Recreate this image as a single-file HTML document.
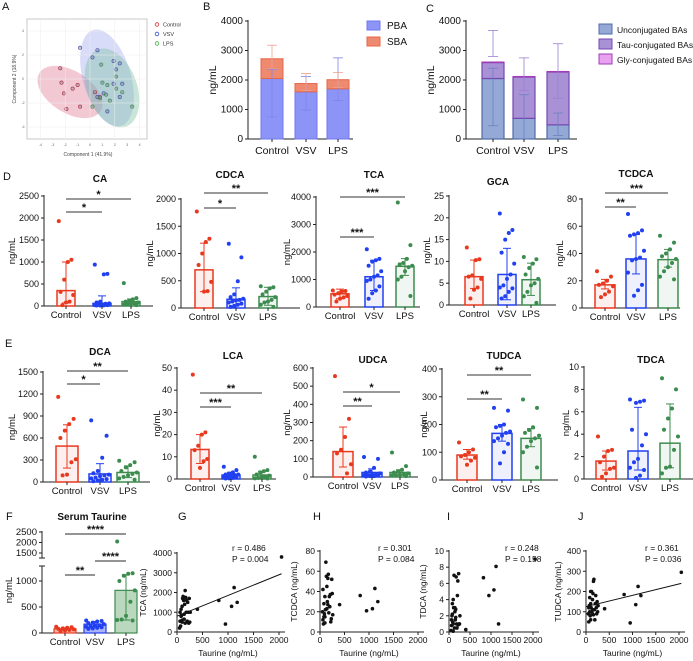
<!DOCTYPE html>
<html><head><meta charset="utf-8">
<style>
html,body{margin:0;padding:0;background:#fff;}
svg{display:block;font-family:"Liberation Sans",Arial,sans-serif;}
</style></head>
<body>
<svg id="fig" width="693" height="661" viewBox="0 0 693 661" xmlns="http://www.w3.org/2000/svg"></svg>
<script>
// ---------- data ----------
const groups = ['Control','VSV','LPS'];
// Panel A PCA scores
const pcaCtrlX = [-2.4,-2.3,-2.1,-1.9,-1.4,-1.0,-0.8,0.4,0.8];
const pcaCtrlY = [0.9,-0.3,-1.2,-2.5,-0.8,-0.5,-2.3,-1.1,-1.5];
const pcaVsvX = [-0.8,0.6,0.2,1.9,2.4,2.1,1.9,2.6,2.4,0.6,1.4,1.1];
const pcaVsvY = [2.6,2.4,1.8,1.5,1.3,0.8,-0.4,-0.4,-1.5,-1.5,-2.7,-1.2];
const pcaLpsX = [0.9,2.1,1.0,1.4,2.1,2.6,1.3,1.6,0.2,3.4,0.8];
const pcaLpsY = [1.2,0.2,-0.3,-0.5,-0.8,-1.1,-1.3,-1.8,-2.3,-2.3,-1.6];
// Panel B
const bPBA = [2050,1600,1700];
const bSBA = [670,280,310];
const bPBALo = [750,980,1300];
const bPBAHi = [2350,2120,2750];
const bTotLo = [2380,1650,1750];
const bTotHi = [3180,2220,2250];
// Panel C
const cUnconj = [2050,700,480];
const cTau = [540,1400,1790];
const cGly = [20,20,20];
const cUncLo = [450,0,120];
const cUncHi = [2400,1500,880];
const cTotLo = [2800,1650,1380];
const cTotHi = [3680,2750,3230];
// Row D
const caMeans=[350,60,100], caLo=[70,0,40], caHi=[1000,230,160];
const caPts=[[1930,1050,1000,600,320,250,100,80,20],[940,730,720,100,80,60,50,40,30,20,20,15,10,10],[520,180,150,120,100,80,60,50,40,30,20]];
const cdcaMeans=[700,160,210], cdcaLo=[300,0,50], cdcaHi=[1190,370,380];
const cdcaPts=[[1770,1270,1210,1000,790,480,310,300],[1180,930,490,250,200,170,150,140,120,100,80,60,40,20],[400,380,360,300,250,200,150,120,100,60,20]];
const tcaMeans=[480,1100,1480], tcaLo=[300,600,1150], tcaHi=[650,1700,1760];
const tcaPts=[[600,580,560,500,450,400,350,300,200],[2100,1750,1700,1650,1500,1300,1150,1100,1000,950,750,600,500,300],[3800,2250,1750,1600,1550,1500,1450,1300,1100,1000,400]];
const gcaMeans=[6.5,7,5.8], gcaLo=[3.8,1.2,2.2], gcaHi=[10.3,13,9.6];
const gcaPts=[[13.2,10.5,10.3,6.8,6.5,6.0,4.0,3.5,1.5],[21,17.2,16.5,15,12,9.5,7,6,4.5,4,3.8,3,2,1.5],[11,10.5,9.5,8.5,7,6,5,4.5,3,2,0.5]];
const tcdcaMeans=[17,36,35.5], tcdcaLo=[14,25,30], tcdcaHi=[21,54,43];
const tcdcaPts=[[27,23,20,18,17,16,12,10,8],[69,57,55,54,53,42,37,36,35,26,17,13,9],[53,48,43,40,38,36,33,30,27,23,21]];
// Row E
const dcaMeans=[490,110,130], dcaLo=[190,0,60], dcaHi=[780,250,220];
const dcaPts=[[1160,860,790,700,600,310,270,100,90],[840,630,330,150,120,100,90,80,60,50,40,30,20,10],[290,270,230,200,150,130,110,90,70,50,30]];
const lcaMeans=[13.3,1.8,1.8], lcaLo=[7,1,0.5], lcaHi=[20,3,3.5];
const lcaPts=[[47,21,20,15,13,9,8,5],[5.5,4,3,2.5,2,2,1.8,1.5,1.2,1,0.8,0.5,0.3,0.2],[10,4,3.5,3,2,1.5,1,1,0.5,0.3,0.2]];
const udcaMeans=[140,25,25], udcaLo=[55,5,10], udcaHi=[275,45,40];
const udcaPts=[[555,320,220,150,130,70,20],[110,100,50,30,25,20,15,15,10,10,8,5,5,3],[135,60,40,30,25,20,15,12,10,8,5]];
const tudcaMeans=[90,168,150], tudcaLo=[75,140,120], tudcaHi=[110,200,185];
const tudcaPts=[[135,110,100,90,85,80,70,55],[260,250,200,195,190,175,170,160,150,140,130,100,60],[290,260,190,180,170,160,150,140,120,100,45]];
const tdcaMeans=[1.6,2.5,3.2], tdcaLo=[0.8,0.8,1], tdcaHi=[2.5,6.4,6.7];
const tdcaPts=[[3.8,2.6,2.5,2,1.5,1,0.9,0.5,0.2],[7.1,7,6.9,6.8,4.4,4,3,1.8,1.5,1,0.8,0.3,0.1],[9,8,6.3,5.4,4.4,3.8,2.6,1.1,1,0.5]];
// Panel F
const tauMeans=[80,170,820], tauLo=[60,130,250], tauHi=[100,220,1120];
const tauPts=[[120,110,100,90,80,70,60,50,40],[240,230,220,200,190,170,150,140,130,120,110,100,90,80],[2050,1150,1140,1100,1000,820,600,330,260,250,240]];
// Scatter G-J (x = taurine)
const taurineX=[50,60,70,80,90,100,100,110,120,130,140,150,160,170,180,190,200,210,220,230,240,250,260,80,140,400,820,950,1070,1120,1180,2050,60,100,160];
const tcaY=[200,550,300,1150,850,600,500,1700,1800,1600,650,1400,2100,1750,1000,1600,550,1500,1000,450,1700,500,1000,800,900,1150,1600,400,1300,2250,1500,3800,1000,1300,450];
const tcdcaY=[20,12,8,28,18,35,15,22,69,55,45,30,53,57,19,35,25,37,10,13,52,38,17,15,23,27,36,21,23,43,30,null,42,9,27];
const tdcaY=[0.2,0.8,2,3.5,1.2,4,1,3,7,0.5,2.5,1.5,2.8,6.8,1,0.5,4.5,6.3,0.9,7.2,1,1,2,2.2,3,0.3,6.7,4.5,5.2,8.1,1,9,1.5,0.1,1.8];
const tudcaY=[90,50,130,100,80,140,60,120,200,95,160,190,250,260,110,60,140,180,120,90,150,100,130,170,110,115,185,45,135,225,180,295,120,200,85];
const corrR=['r = 0.486','r = 0.301','r = 0.248','r = 0.361'];
const corrP=['P = 0.004','P = 0.084','P = 0.158','P = 0.036'];
const fitG=[800,2950]; const fitJ=[125,240];

// ---------- helpers ----------
const NS='http://www.w3.org/2000/svg';
const svg=document.getElementById('fig');
const COLS=['#e8381e','#2140f0','#3d8c4f'];
function el(tag,attrs,name,parent){
  const e=document.createElementNS(NS,tag);
  for(const k in attrs) e.setAttribute(k,attrs[k]);
  
  
  (parent||svg).appendChild(e);
  return e;
}
function txt(x,y,s,name,o){
  o=o||{};
  const t=el('text',{x:x,y:y,'font-size':o.fs||9,'text-anchor':o.a||'middle','font-weight':o.w||'normal',fill:o.fill||'#111',transform:o.rot?`rotate(-90 ${x} ${y})`:''},name);
  t.textContent=s; return t;
}
function line(x1,y1,x2,y2,name,c,w){return el('line',{x1,y1,x2,y2,stroke:c||'#222','stroke-width':w||1},name);}
function jit(i,bw){return (((i*7)%9)-4)*bw/10;}

// ---------- panel letters ----------
[['A',2,10],['B',203,10],['C',426,12],['D',3,180],['E',5,347],['F',6,520],['G',178,520],['H',313,520],['I',447,520],['J',578,520]].forEach(l=>{
  txt(l[1],l[2],l[0],'panel-label-'+l[0].toLowerCase(),{fs:11,a:'start'});
});

// ---------- Panel A ----------
(function(){
  const g=el('g',{},'panel-a-pca');
  el('rect',{x:27,y:19,width:120,height:120,fill:'#fff',stroke:'#bbb','stroke-width':0.8},'pca-plot-frame',g);
  const sx=v=>90+v*12.4, sy=v=>79-v*12;
  [-4,-2,0,2,4].forEach(v=>{line(sx(v),19,sx(v),139,'pca-grid-x','#eee',0.5);});
  [-4,-2,0,2,4].forEach(v=>{line(27,sy(v),147,sy(v),'pca-grid-y','#eee',0.5);});
  [-4,-3,-2,-1,0,1,2,3,4].forEach(v=>{txt(sx(v),146,String(v),'pca-x-tick-label',{fs:3.5,fill:'#666'});});
  [-4,-2,0,2,4].forEach(v=>{txt(23,sy(v)+1,String(v),'pca-y-tick-label',{fs:3.5,fill:'#666'});});
  el('ellipse',{cx:70,cy:92,rx:36,ry:21,transform:'rotate(32 70 92)',fill:'rgba(220,110,140,0.38)'},'control-ellipse',g);
  el('ellipse',{cx:107,cy:78,rx:50,ry:24,transform:'rotate(74 107 78)',fill:'rgba(140,150,235,0.33)'},'vsv-ellipse',g);
  el('ellipse',{cx:112,cy:88,rx:41,ry:25,transform:'rotate(70 112 88)',fill:'rgba(120,190,160,0.4)'},'lps-ellipse',g);
  [[pcaCtrlX,pcaCtrlY,'#b03040'],[pcaVsvX,pcaVsvY,'#4050b0'],[pcaLpsX,pcaLpsY,'#40904a']].forEach((s,k)=>{
    s[0].forEach((v,i)=>{el('circle',{cx:sx(v),cy:sy(s[1][i]),r:1.7,fill:'rgba(120,120,140,0.45)',stroke:s[2],'stroke-width':0.6},'pca-point-'+groups[k].toLowerCase(),g);});
  });
  txt(88,156,'Component 1 (41.9%)','pca-x-axis-title',{fs:5,fill:'#444'});
  txt(16,79,'Component 2 (18.9%)','pca-y-axis-title',{fs:5,fill:'#444',rot:1});
  ['#e03030','#3050d0','#40b040'].forEach((c,i)=>{
    el('circle',{cx:157,cy:24.5+i*9.5,r:1.8,fill:'none',stroke:c,'stroke-width':0.8},'pca-legend-marker',g);
    txt(163,26.5+i*9.5,groups[i],'pca-legend-label',{fs:5.5,a:'start',fill:'#333'});
  });
})();

// ---------- generic axes ----------
function yAxis(ax,top,bot,max,ticks,fs){
  line(ax,top-1,ax,bot,'y-axis-line');
  ticks.forEach(t=>{const y=bot-t/max*(bot-top); line(ax-3,y,ax,y,'y-tick'); txt(ax-5,y+3,String(t),'y-tick-label',{fs:fs||9,a:'end'});});
}

// ---------- Panel B ----------
(function(){
  const ax=248, top=21, bot=139, end=353, max=4000, cx=[272,306,338], bw=22;
  const y=v=>bot-v/max*(bot-top);
  yAxis(ax,top,bot,max,[0,1000,2000,3000,4000],10);
  line(ax,bot,end,bot,'x-axis-line');
  cx.forEach((c,i)=>{
    el('rect',{x:c-bw/2,y:y(bPBA[i]),width:bw,height:bot-y(bPBA[i]),fill:'#8d94f7',stroke:'#6f78f0','stroke-width':1},'pba-bar-'+groups[i].toLowerCase());
    el('rect',{x:c-bw/2,y:y(bPBA[i]+bSBA[i]),width:bw,height:y(bPBA[i])-y(bPBA[i]+bSBA[i]),fill:'#ee8a70',stroke:'#e6674a','stroke-width':1},'sba-bar-'+groups[i].toLowerCase());
    line(c,y(bPBALo[i]),c,y(bPBAHi[i]),'pba-error-bar','#7d84e8',0.8);
    line(c-5,y(bPBALo[i]),c+5,y(bPBALo[i]),'pba-error-cap','#7d84e8',0.8);
    line(c-5,y(bPBAHi[i]),c+5,y(bPBAHi[i]),'pba-error-cap','#7d84e8',0.8);
    line(c,y(bTotLo[i]),c,y(bTotHi[i]),'sba-error-bar','#f0a090',0.8);
    line(c-5,y(bTotHi[i]),c+5,y(bTotHi[i]),'sba-error-cap','#f0a090',0.8);
    line(c-5,y(bTotLo[i]),c+5,y(bTotLo[i]),'sba-error-cap','#f0a090',0.8);
    line(c,bot,c,bot+3,'x-tick');
    txt(c,bot+15,groups[i],'x-tick-label',{fs:10.5});
  });
  txt(216,80,'ng/mL','y-axis-title',{fs:10.5,rot:1});
  el('rect',{x:367,y:21,width:13,height:9,fill:'#8d94f7',stroke:'#6f78f0'},'legend-swatch-pba');
  txt(387,29,'PBA','legend-label-pba',{fs:10,a:'start'});
  el('rect',{x:367,y:37,width:13,height:9,fill:'#ee8a70',stroke:'#e6674a'},'legend-swatch-sba');
  txt(387,45,'SBA','legend-label-sba',{fs:10,a:'start'});
})();

// ---------- Panel C ----------
(function(){
  const ax=466, top=21, bot=139, end=577, max=4000, cx=[493,524,558], bw=22;
  const y=v=>bot-v/max*(bot-top);
  yAxis(ax,top,bot,max,[0,1000,2000,3000,4000],10);
  line(ax,bot,end,bot,'x-axis-line');
  cx.forEach((c,i)=>{
    el('rect',{x:c-bw/2,y:y(cUnconj[i]),width:bw,height:bot-y(cUnconj[i]),fill:'#95a9d6',stroke:'#4d6ca8','stroke-width':1.2},'unconjugated-bar-'+groups[i].toLowerCase());
    const t=cUnconj[i]+cTau[i];
    el('rect',{x:c-bw/2,y:y(t),width:bw,height:y(cUnconj[i])-y(t),fill:'#a991d6',stroke:'#7448b0','stroke-width':1.2},'tau-conjugated-bar-'+groups[i].toLowerCase());
    el('rect',{x:c-bw/2,y:y(t+cGly[i]),width:bw,height:y(t)-y(t+cGly[i]),fill:'#e8a2ef',stroke:'#a03cb8','stroke-width':1},'gly-conjugated-bar-'+groups[i].toLowerCase());
    line(c,y(cUncLo[i]),c,y(cUncHi[i]),'unconjugated-error-bar','#6a82c0',0.8);
    line(c-5,y(cUncLo[i]),c+5,y(cUncLo[i]),'error-cap','#6a82c0',0.8);
    line(c-5,y(cUncHi[i]),c+5,y(cUncHi[i]),'error-cap','#6a82c0',0.8);
    line(c,y(cTotLo[i]),c,y(cTotHi[i]),'tau-error-bar','#9a80d0',0.8);
    line(c-5,y(cTotLo[i]),c+5,y(cTotLo[i]),'error-cap','#9a80d0',0.8);
    line(c-5,y(cTotHi[i]),c+5,y(cTotHi[i]),'error-cap','#9a80d0',0.8);
    line(c,bot,c,bot+3,'x-tick');
    txt(c,bot+15,groups[i],'x-tick-label',{fs:10.5});
  });
  txt(434,80,'ng/mL','y-axis-title',{fs:10.5,rot:1});
  [['Unconjugated BAs','#95a9d6','#4d6ca8'],['Tau-conjugated BAs','#a991d6','#7448b0'],['Gly-conjugated BAs','#e8a2ef','#a03cb8']].forEach((l,i)=>{
    el('rect',{x:599,y:24+i*15,width:13,height:10,fill:l[1],stroke:l[2]},'legend-swatch');
    txt(617,33+i*15,l[0],'legend-label',{fs:8.5,a:'start'});
  });
})();

// ---------- bar + dot panels ----------
function barPanel(p){
  const y=v=>p.bot-Math.min(v,p.max)/p.max*(p.bot-p.top);
  yAxis(p.ax,p.top,p.bot,p.max,p.ticks,9);
  line(p.ax,p.bot,p.end,p.bot,'x-axis-line');
  txt(p.ylx,(p.top+p.bot)/2,'ng/mL','y-axis-title',{fs:9.5,rot:1});
  txt(p.tx,p.ty,p.title,'panel-title-'+p.title.toLowerCase(),{fs:10,w:'bold'});
  p.cx.forEach((c,i)=>{
    const col=COLS[i];
    el('rect',{x:c-p.bw/2,y:y(p.means[i]),width:p.bw,height:p.bot-y(p.means[i]),fill:col,'fill-opacity':0.08,stroke:col,'stroke-width':1.5},'bar-'+groups[i].toLowerCase());
    p.pts[i].forEach((v,k)=>{el('circle',{cx:c+jit(k,p.bw),cy:y(v),r:2,fill:col},'data-point-'+groups[i].toLowerCase());});
    line(c,y(p.lo[i]),c,y(p.hi[i]),'error-bar',col,1);
    line(c-4,y(p.lo[i]),c+4,y(p.lo[i]),'error-cap',col,1);
    line(c-4,y(p.hi[i]),c+4,y(p.hi[i]),'error-cap',col,1);
    line(c,p.bot,c,p.bot+3,'x-tick');
    txt(c,p.bot+12,groups[i],'x-tick-label',{fs:9.5});
  });
  (p.sig||[]).forEach(s=>{
    line(p.cx[s[0]],s[2],p.cx[s[1]],s[2],'significance-line','#333',1);
    txt((p.cx[s[0]]+p.cx[s[1]])/2,s[2]-1,s[3],'significance-stars',{fs:11,w:'bold'});
  });
}
// Row D
barPanel({title:'CA',tx:100,ty:182,ax:44,end:153,top:196,bot:306,max:2500,ticks:[0,500,1000,1500,2000,2500],cx:[66,102,131],bw:18,ylx:15,means:caMeans,lo:caLo,hi:caHi,pts:caPts,sig:[[0,1,212,'*'],[0,2,199,'*']]});
barPanel({title:'CDCA',tx:230,ty:178,ax:181,end:300,top:199,bot:308,max:2000,ticks:[0,500,1000,1500,2000],cx:[204,236,268],bw:18,ylx:153,means:cdcaMeans,lo:cdcaLo,hi:cdcaHi,pts:cdcaPts,sig:[[0,1,208,'*'],[0,2,193,'**']]});
barPanel({title:'TCA',tx:374,ty:178,ax:316,end:420,top:197,bot:307,max:4000,ticks:[0,1000,2000,3000,4000],cx:[340,374,405],bw:18,ylx:290,means:tcaMeans,lo:tcaLo,hi:tcaHi,pts:tcaPts,sig:[[0,1,237,'***'],[0,2,197,'***']]});
barPanel({title:'GCA',tx:498,ty:185,ax:449,end:556,top:196,bot:305,max:25,ticks:[0,5,10,15,20,25],cx:[474,507,531],bw:18,ylx:430,means:gcaMeans,lo:gcaLo,hi:gcaHi,pts:gcaPts});
barPanel({title:'TCDCA',tx:636,ty:177,ax:582,end:680,top:199,bot:308,max:80,ticks:[0,20,40,60,80],cx:[605,636,668],bw:20,ylx:563,means:tcdcaMeans,lo:tcdcaLo,hi:tcdcaHi,pts:tcdcaPts,sig:[[0,1,207,'**'],[0,2,193,'***']]});
// Row E
barPanel({title:'DCA',tx:100,ty:355,ax:43,end:150,top:372,bot:482,max:1500,ticks:[0,300,600,900,1200,1500],cx:[67,100,128],bw:22,ylx:15,means:dcaMeans,lo:dcaLo,hi:dcaHi,pts:dcaPts,sig:[[0,1,384,'*'],[0,2,371,'**']]});
barPanel({title:'LCA',tx:233,ty:359,ax:177,end:276,top:368,bot:479,max:50,ticks:[0,10,20,30,40,50],cx:[200,231,262],bw:18,ylx:160,means:lcaMeans,lo:lcaLo,hi:lcaHi,pts:lcaPts,sig:[[0,1,407,'***'],[0,2,393,'**']]});
barPanel({title:'UDCA',tx:373,ty:363,ax:313,end:418,top:368,bot:477,max:600,ticks:[0,100,200,300,400,500,600],cx:[343,372,400],bw:20,ylx:290,means:udcaMeans,lo:udcaLo,hi:udcaHi,pts:udcaPts,sig:[[0,1,406,'**'],[0,2,392,'*']]});
barPanel({title:'TUDCA',tx:504,ty:359,ax:442,end:558,top:369,bot:480,max:400,ticks:[0,100,200,300,400],cx:[467,502,531],bw:20,ylx:427,means:tudcaMeans,lo:tudcaLo,hi:tudcaHi,pts:tudcaPts,sig:[[0,1,399,'**'],[0,2,375,'**']]});
barPanel({title:'TDCA',tx:651,ty:363,ax:584,end:693,top:367,bot:479,max:10,ticks:[0,2,4,6,8,10],cx:[606,638,670],bw:20,ylx:569,means:tdcaMeans,lo:tdcaLo,hi:tdcaHi,pts:tdcaPts});

// ---------- Panel F (broken axis) ----------
(function(){
  const ax=42, bot=633, end=137, cx=[65,95,126], bw=22;
  const y=v=> v<=1300 ? bot-v*0.052 : 553-(v-1500)*0.021;
  line(ax,531,ax,558,'y-axis-upper-segment');
  line(ax,566,ax,bot,'y-axis-lower-segment');
  line(ax-3,558,ax+3,558,'axis-break-mark'); line(ax-3,566,ax+3,566,'axis-break-mark');
  [1500,2000,2500,0,500,1000].forEach(t=>{line(ax-3,y(t),ax,y(t),'y-tick'); txt(ax-5,y(t)+3,String(t),'y-tick-label',{fs:9.5,a:'end'});});
  line(ax,bot,end,bot,'x-axis-line');
  txt(12,590,'ng/mL','y-axis-title',{fs:9.5,rot:1});
  txt(92,520,'Serum Taurine','panel-title-serum-taurine',{fs:10,w:'bold'});
  const fills=['#f6b6a8','#a9b4fa','#b9d8bd'];
  cx.forEach((c,i)=>{
    const col=COLS[i];
    el('rect',{x:c-bw/2,y:y(tauMeans[i]),width:bw,height:bot-y(tauMeans[i]),fill:fills[i],stroke:col,'stroke-width':1.2},'taurine-bar-'+groups[i].toLowerCase());
    tauPts[i].forEach((v,k)=>{el('circle',{cx:c+jit(k,bw),cy:y(v),r:2,fill:col},'taurine-point-'+groups[i].toLowerCase());});
    line(c,y(tauLo[i]),c,y(tauHi[i]),'error-bar',col,1);
    line(c-4,y(tauLo[i]),c+4,y(tauLo[i]),'error-cap',col,1);
    line(c-4,y(tauHi[i]),c+4,y(tauHi[i]),'error-cap',col,1);
    line(c,bot,c,bot+3,'x-tick');
    txt(c,bot+12,groups[i],'x-tick-label',{fs:9.5});
  });
  [[0,2,534,'****'],[0,1,575,'**'],[1,2,561,'****']].forEach(s=>{
    line(cx[s[0]],s[2],cx[s[1]],s[2],'significance-line','#555',1.2);
    txt((cx[s[0]]+cx[s[1]])/2,s[2]-1,s[3],'significance-stars',{fs:11,w:'bold'});
  });
})();

// ---------- scatter panels ----------
function scatter(p){
  const sx=v=>p.ax+v/2000*(p.x2-p.ax), sy=v=>p.bot-v/p.max*(p.bot-p.top);
  yAxis(p.ax,p.top,p.bot,p.max,p.ticks,8.5);
  line(p.ax,p.bot,p.x2+6,p.bot,'x-axis-line');
  [0,500,1000,1500,2000].forEach(t=>{line(sx(t),p.bot,sx(t),p.bot+3,'x-tick'); txt(sx(t),p.bot+11,String(t),'x-tick-label',{fs:8.5});});
  txt((p.ax+p.x2)/2,656,'Taurine (ng/mL)','x-axis-title',{fs:8.5});
  txt(p.ylx,(p.top+p.bot)/2,p.ylab,'y-axis-title',{fs:8.5,rot:1});
  taurineX.forEach((v,i)=>{ if(p.ys[i]!==null && p.ys[i]!==undefined) el('circle',{cx:sx(v),cy:sy(p.ys[i]),r:1.8,fill:'#111'},'scatter-point');});
  if(p.fit){ line(sx(0),sy(p.fit[0]),sx(2050),sy(p.fit[1]),'regression-line','#111',1); }
  txt(p.rx,551,corrR[p.k],'correlation-r',{fs:8.5,a:'start'});
  txt(p.rx,562,corrP[p.k],'correlation-p',{fs:8.5,a:'start'});
}
scatter({k:0,ax:177,x2:279,top:553,bot:632,max:4000,ticks:[0,1000,2000,3000,4000],ylx:146,ylab:'TCA (ng/mL)',ys:tcaY,fit:fitG,rx:232});
scatter({k:1,ax:320,x2:418,top:551,bot:632,max:80,ticks:[0,20,40,60,80],ylx:297,ylab:'TCDCA (ng/mL)',ys:tcdcaY,rx:378});
scatter({k:2,ax:449,x2:533,top:551,bot:632,max:10,ticks:[0,2,4,6,8,10],ylx:426,ylab:'TDCA (ng/mL)',ys:tdcaY,rx:505});
scatter({k:3,ax:586,x2:679,top:551,bot:632,max:400,ticks:[0,100,200,300,400],ylx:561,ylab:'TUDCA (ng/mL)',ys:tudcaY,fit:fitJ,rx:645});
</script>
</body></html>
